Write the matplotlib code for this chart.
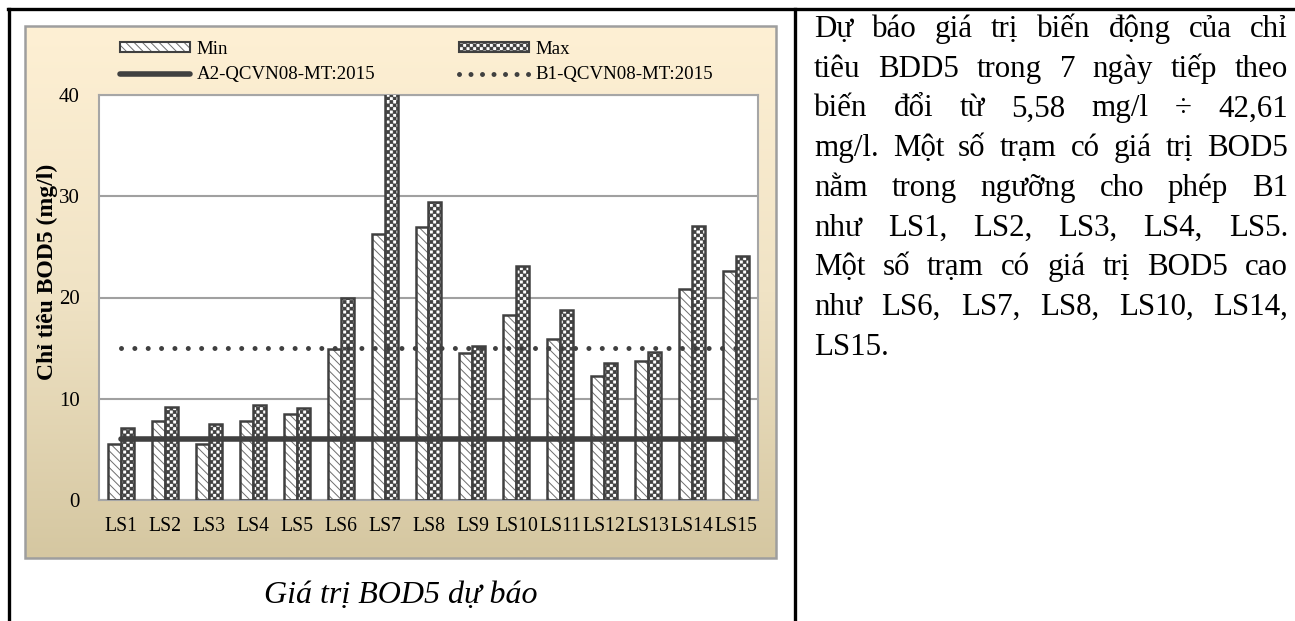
# BOD5 forecast chart with the note text beside it

import matplotlib
matplotlib.use("Agg")

import matplotlib.hatch as mhatch
import matplotlib.pyplot as plt
import numpy as np
from matplotlib.colors import LinearSegmentedColormap
from matplotlib.lines import Line2D
from matplotlib.patches import Patch, Rectangle
from matplotlib.path import Path as MPath


stations = ["LS1", "LS2", "LS3", "LS4", "LS5", "LS6", "LS7", "LS8",
            "LS9", "LS10", "LS11", "LS12", "LS13", "LS14", "LS15"]
bod_min = [5.58, 7.85, 5.55, 7.8, 8.5, 14.95, 26.3, 27.0,
           14.55, 18.25, 15.9, 12.2, 13.75, 20.8, 22.65]
bod_max = [7.1, 9.15, 7.5, 9.35, 9.1, 20.0, 42.61, 29.4,
           15.25, 23.1, 18.75, 13.5, 14.6, 27.1, 24.1]
a2_limit = 6
b1_limit = 15
y_ticks = [0, 10, 20, 30, 40]

y_label = "Chỉ tiêu BOD5 (mg/l)"
caption = "Giá trị BOD5 dự báo"
note_lines = [
    "Dự báo giá trị biến động của chỉ",
    "tiêu BDD5 trong 7 ngày tiếp theo",
    "biến đổi từ 5,58 mg/l ÷ 42,61",
    "mg/l. Một số trạm có giá trị BOD5",
    "nằm trong ngưỡng cho phép B1",
    "như LS1, LS2, LS3, LS4, LS5.",
    "Một số trạm có giá trị BOD5 cao",
    "như LS6, LS7, LS8, LS10, LS14,",
    "LS15.",
]

W, H = 1295, 621
DARK = "#404040"
MIN_HATCH = "#6E6E6E"


class CheckerHatch(mhatch.HatchPatternBase):
    # '.' in a hatch string draws a checkerboard instead of small dots
    def __init__(self, hatch, density):
        self.cells = hatch.count(".") * density
        self.num_vertices = (self.cells * self.cells // 2) * 5

    def set_vertices_and_codes(self, vertices, codes):
        step = 1.0 / self.cells
        square = np.array([[0, 0], [1, 0], [1, 1], [0, 1], [0, 0]]) * step * 0.8
        parts = []
        for row in range(self.cells):
            for col in range(row % 2, self.cells, 2):
                parts.append(square + [col * step, row * step])
        vertices[:] = np.concatenate(parts)
        one = [MPath.MOVETO, MPath.LINETO, MPath.LINETO, MPath.LINETO, MPath.CLOSEPOLY]
        codes[:] = np.tile(one, len(parts))


mhatch._hatch_types = [CheckerHatch if t is mhatch.SmallFilledCircles else t
                       for t in mhatch._hatch_types]

plt.rcParams["font.family"] = ["Liberation Serif", "DejaVu Serif"]
plt.rcParams["hatch.linewidth"] = 0.7


def fx(px):
    return px / W


def fy(py):
    return 1 - py / H


def draw_note(fig, lines, left, right, first_baseline, pitch, size):
    renderer = fig.canvas.get_renderer()
    for i, line in enumerate(lines):
        y = fy(first_baseline + i * pitch)
        words = line.split(" ")
        texts = [fig.text(0, y, w, fontsize=size, va="baseline") for w in words]
        widths = [t.get_window_extent(renderer).width for t in texts]
        if i == len(lines) - 1 or len(words) == 1:
            gap = 0.27 * size * 100 / 72
        else:
            gap = (right - left - sum(widths)) / (len(words) - 1)
        x = left
        for t, w in zip(texts, widths):
            t.set_x(fx(x))
            x += w + gap


fig = plt.figure(figsize=(W / 100, H / 100), dpi=100)

# beige chart box
bg = fig.add_axes([fx(25), fy(558), fx(751), 532 / H], zorder=0)
beige = LinearSegmentedColormap.from_list("beige", ["#FEF0D4", "#F0E3C5", "#D5C7A1"])
bg.imshow(np.linspace(0, 1, 256)[:, None], aspect="auto", cmap=beige,
          extent=[0, 1, 0, 1])
bg.add_patch(Rectangle((0, 0), 1, 1, transform=bg.transAxes, fill=False,
                       edgecolor="#9E9E9E", lw=1.8, clip_on=False))
bg.set_axis_off()

ax = fig.add_axes([fx(99), fy(500), 659 / W, 405 / H], zorder=1)
x = np.arange(len(stations))
bar_w = 0.295

ax.bar(x - bar_w / 2, bod_min, bar_w, color="white", hatch="\\\\\\\\",
       edgecolor=MIN_HATCH, linewidth=0, zorder=2)
ax.bar(x - bar_w / 2, bod_min, bar_w, fill=False, edgecolor=DARK,
       linewidth=1.8, zorder=3)
ax.bar(x + bar_w / 2, bod_max, bar_w, color="white", hatch=".....",
       edgecolor=DARK, linewidth=1.8, zorder=3)

ax.plot(x, [a2_limit] * len(x), color=DARK, lw=4, solid_capstyle="round", zorder=4)
ax.plot(x, [b1_limit] * len(x), color=DARK, lw=3.6, linestyle=(0, (0.001, 2.67)),
        dash_capstyle="round", zorder=4)

ax.set_xlim(-0.5, len(stations) - 0.5)
ax.set_ylim(0, 40)
ax.set_yticks(y_ticks)
ax.set_xticks(x)
ax.set_xticklabels(stations)
ax.tick_params(axis="y", length=0, pad=14, labelsize=15)
ax.tick_params(axis="x", length=0, pad=12, labelsize=14.2)
ax.grid(axis="y", color="#A0A0A0", lw=1.5)
ax.set_axisbelow(True)
for spine in ax.spines.values():
    spine.set_color("#A6A6A6")
    spine.set_linewidth(1.5)

fig.text(fx(47), fy(272), y_label, rotation=90, ha="center", va="center",
         fontsize=17, fontweight="bold")

min_handle = (Patch(facecolor="white", hatch="\\\\\\\\", edgecolor=MIN_HATCH, lw=0),
              Patch(fill=False, edgecolor=DARK, lw=1.5))
max_handle = Patch(facecolor="white", hatch=".....", edgecolor=DARK, lw=1.5)
a2_handle = Line2D([], [], color=DARK, lw=4, solid_capstyle="round")
b1_handle = Line2D([], [], color=DARK, lw=3.6, linestyle=(0, (0.001, 2.3)),
                   dash_capstyle="round")
fig.legend([min_handle, a2_handle, max_handle, b1_handle],
           ["Min", "A2-QCVN08-MT:2015", "Max", "B1-QCVN08-MT:2015"],
           ncols=2, loc="upper left", bbox_to_anchor=(fx(120), fy(41)),
           frameon=False, fontsize=13.6, borderpad=0, borderaxespad=0,
           handlelength=3.7, handleheight=0.45, handletextpad=0.37,
           columnspacing=4.4, labelspacing=0.45)

fig.text(fx(401), fy(603), caption, ha="center", va="baseline",
         fontsize=23, style="italic")

# table frame
frame = dict(color="black", lw=2.4, transform=fig.transFigure)
fig.add_artist(Line2D([fx(8), 1], [fy(9), fy(9)], **frame))
fig.add_artist(Line2D([fx(9), fx(9)], [fy(9), 0], **frame))
fig.add_artist(Line2D([fx(795), fx(795)], [fy(9), 0], **frame))

draw_note(fig, note_lines, 814, 1288, 37, 39.7, 22.3)

fig.savefig("out.png", dpi=100)
